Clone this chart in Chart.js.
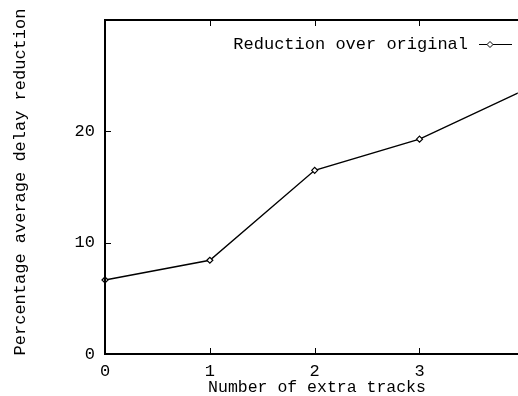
<!DOCTYPE html>
<html lang="en">
<head>
<meta charset="UTF-8">
<title>Percentage average delay reduction</title>
<script src="https://cdn.jsdelivr.net/npm/chart.js"></script>
<style>
  html, body { margin: 0; padding: 0; background: #fff; }
  #wrap { width: 518px; height: 396px; }
</style>
</head>
<body>
<div id="wrap"><canvas id="chart" width="518" height="396"></canvas></div>
<script>
// data
var tracks = [0, 1, 2, 3, 4];
var reduction = [6.65, 8.42, 16.5, 19.3, 23.7];
var xTicks = [0, 1, 2, 3];
var yTicks = [0, 10, 20];
var seriesLabel = 'Reduction over original';
var xTitle = 'Number of extra tracks';
var yTitle = 'Percentage average delay reduction';

var FONT = '"Liberation Mono", "DejaVu Sans Mono", monospace';

// frame, inward ticks, axis titles and the gnuplot-style legend
var framePlugin = {
  id: 'frame',
  afterDraw: function (chart) {
    var ctx = chart.ctx, a = chart.chartArea;
    var xs = chart.scales.x, ys = chart.scales.y;
    var W = chart.width;
    ctx.save();
    ctx.strokeStyle = '#000';
    ctx.lineWidth = 2;
    ctx.beginPath();
    ctx.moveTo(W, a.top);
    ctx.lineTo(a.left, a.top);
    ctx.lineTo(a.left, a.bottom);
    ctx.lineTo(W, a.bottom);
    ctx.stroke();

    ctx.lineWidth = 1;
    ctx.beginPath();
    xTicks.forEach(function (v) {
      if (v === 0) return;
      var px = Math.round(xs.getPixelForValue(v)) + 0.5;
      ctx.moveTo(px, a.bottom); ctx.lineTo(px, a.bottom - 6);
      ctx.moveTo(px, a.top); ctx.lineTo(px, a.top + 6);
    });
    yTicks.forEach(function (v) {
      if (v === 0) return;
      var py = Math.round(ys.getPixelForValue(v)) + 0.5;
      ctx.moveTo(a.left, py); ctx.lineTo(a.left + 6, py);
    });
    ctx.stroke();

    // axis titles
    ctx.fillStyle = '#000';
    ctx.textAlign = 'center';
    ctx.textBaseline = 'middle';
    ctx.font = '16.5px ' + FONT;
    ctx.fillText(xTitle, 317, 388);
    ctx.font = '17px ' + FONT;
    ctx.save();
    ctx.translate(20, 182);
    ctx.rotate(-Math.PI / 2);
    ctx.fillText(yTitle, 0, 0);
    ctx.restore();

    // legend
    ctx.font = '17px ' + FONT;
    ctx.textAlign = 'right';
    ctx.fillText(seriesLabel, 468, 44);
    ctx.beginPath();
    ctx.moveTo(479, 44.5); ctx.lineTo(512, 44.5);
    ctx.stroke();
    ctx.beginPath();
    ctx.moveTo(490, 41.5); ctx.lineTo(493, 44.5); ctx.lineTo(490, 47.5); ctx.lineTo(487, 44.5);
    ctx.closePath();
    ctx.fillStyle = '#fff';
    ctx.fill();
    ctx.stroke();
    ctx.restore();
  }
};

new Chart(document.getElementById('chart'), {
  type: 'scatter',
  data: {
    datasets: [{
      label: seriesLabel,
      data: tracks.map(function (t, i) { return { x: t, y: reduction[i] }; }),
      showLine: true,
      borderColor: '#000',
      borderWidth: 1.4,
      pointStyle: 'rectRot',
      pointRadius: 3,
      pointBorderWidth: 1.2,
      pointBackgroundColor: '#fff',
      pointBorderColor: '#000',
      tension: 0,
      clip: { left: 5, top: 5, right: 5, bottom: 5 }
    }]
  },
  options: {
    responsive: false,
    animation: false,
    layout: { padding: { top: 20, right: 0, left: 0, bottom: 0 } },
    plugins: { legend: { display: false }, tooltip: { enabled: false } },
    scales: {
      x: {
        type: 'linear',
        min: 0,
        max: 3.89,
        afterBuildTicks: function (s) { s.ticks = xTicks.map(function (v) { return { value: v }; }); },
        grid: { display: false, drawTicks: false },
        border: { display: false },
        ticks: { color: '#000', font: { family: FONT, size: 17 }, padding: 7, maxRotation: 0, autoSkip: false },
        afterFit: function (s) { s.height = 42; s.paddingLeft = 0; s.paddingRight = 0; }
      },
      y: {
        min: 0,
        max: 30,
        afterBuildTicks: function (s) { s.ticks = yTicks.map(function (v) { return { value: v }; }); },
        grid: { display: false, drawTicks: false },
        border: { display: false },
        ticks: { color: '#000', font: { family: FONT, size: 17 }, padding: 10 },
        afterFit: function (s) { s.width = 105; s.paddingTop = 0; s.paddingBottom = 0; }
      }
    }
  },
  plugins: [framePlugin]
});
</script>
</body>
</html>
